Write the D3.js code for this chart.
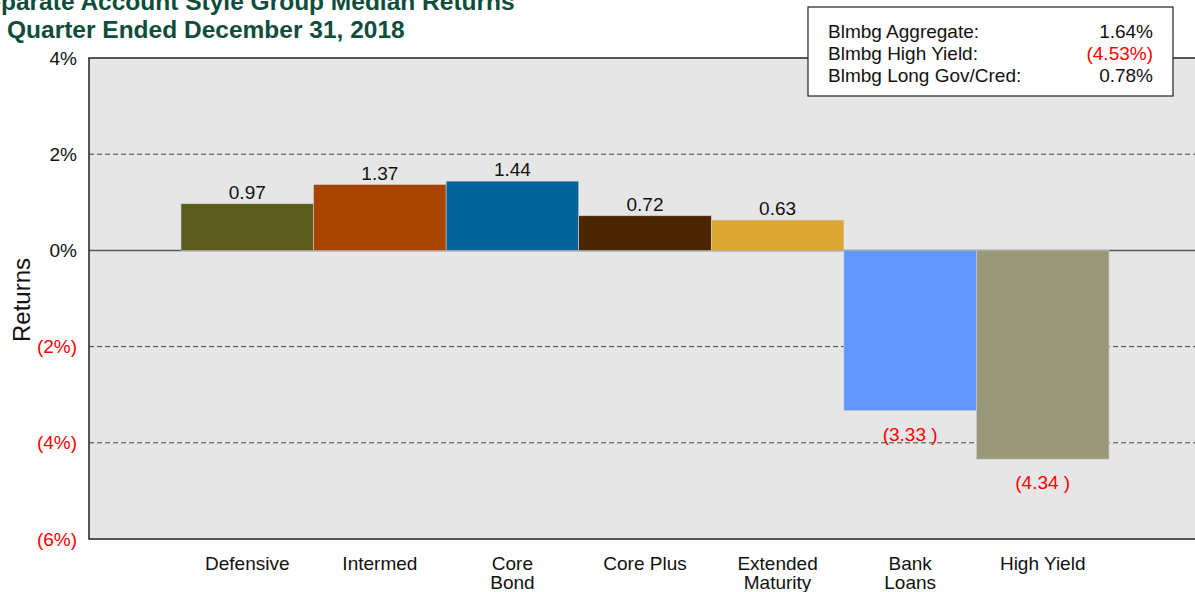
<!DOCTYPE html>
<html>
<head>
<meta charset="utf-8">
<script src="https://cdn.jsdelivr.net/npm/d3@7"></script>
<style>
  body { margin: 0; background: #ffffff; }
  svg { display: block; font-family: "Liberation Sans", Arial, sans-serif; }
</style>
</head>
<body>
<div id="chart"></div>
<script>
/**
 * Data
 */
const categories = [["Defensive"], ["Intermed"], ["Core", "Bond"], ["Core Plus"],
  ["Extended", "Maturity"], ["Bank", "Loans"], ["High Yield"]];
const returns = [0.97, 1.37, 1.44, 0.72, 0.63, -3.33, -4.34];
const barColors = ["#5c5c1f", "#a84400", "#00649b", "#4a2600", "#dba832", "#6096ff", "#999878"];
const yTicks = [4, 2, 0, -2, -4, -6];
const indexNames = ["Blmbg Aggregate:", "Blmbg High Yield:", "Blmbg Long Gov/Cred:"];
const indexReturns = [1.64, -4.53, 0.78];
const titleLines = ["Separate Account Style Group Median Returns", "Quarter Ended December 31, 2018"];

/**
 * Settings
 */
const width = 1195;
const height = 592;
const plot = { left: 89, top: 58, right: 1200, bottom: 539 };

const svg = d3.select("#chart")
  .append("svg")
  .attr("width", width)
  .attr("height", height);

const y = d3.scaleLinear()
  .domain([-6, 4])
  .range([plot.bottom, plot.top]);

const x = d3.scaleBand()
  .domain(categories.map(d => d.join(" ")))
  .range([181, 1109])
  .padding(0);

const fmt = v => v < 0 ? "(" + d3.format(".2f")(-v) + " )" : d3.format(".2f")(v);

// plot background
svg.append("rect")
  .attr("x", plot.left)
  .attr("y", plot.top)
  .attr("width", plot.right - plot.left)
  .attr("height", plot.bottom - plot.top)
  .attr("fill", "#e6e6e6");

// dashed grid lines
svg.selectAll(".grid")
  .data(yTicks.filter(t => t !== 0 && t !== 4 && t !== -6))
  .join("line")
  .attr("class", "grid")
  .attr("x1", plot.left)
  .attr("x2", plot.right)
  .attr("y1", d => y(d))
  .attr("y2", d => y(d))
  .attr("stroke", "#444")
  .attr("stroke-width", 1)
  .attr("stroke-dasharray", "5,3");

// zero line
svg.append("line")
  .attr("x1", plot.left)
  .attr("x2", plot.right)
  .attr("y1", y(0))
  .attr("y2", y(0))
  .attr("stroke", "#555")
  .attr("stroke-width", 1.5);

// bars
svg.selectAll(".bar")
  .data(returns)
  .join("rect")
  .attr("class", "bar")
  .attr("x", (d, i) => x(categories[i].join(" ")))
  .attr("width", x.bandwidth())
  .attr("y", d => y(Math.max(0, d)))
  .attr("height", d => Math.abs(y(d) - y(0)))
  .attr("fill", (d, i) => barColors[i])
  .attr("stroke", "#d0d0d0")
  .attr("stroke-width", 0.6);

// value labels
svg.selectAll(".val")
  .data(returns)
  .join("text")
  .attr("class", "val")
  .attr("x", (d, i) => x(categories[i].join(" ")) + x.bandwidth() / 2)
  .attr("y", d => d >= 0 ? y(d) - 5 : y(d) + 30)
  .attr("text-anchor", "middle")
  .attr("font-size", 19)
  .attr("fill", d => d < 0 ? "#ff0000" : "#111")
  .text(fmt);

// frame: top, left, bottom
svg.append("path")
  .attr("d", `M${plot.right},${plot.top}H${plot.left}V${plot.bottom}H${plot.right}`)
  .attr("fill", "none")
  .attr("stroke", "#222")
  .attr("stroke-width", 1.5);

// y axis labels
const yAxis = svg.append("g")
  .attr("transform", `translate(${plot.left},0)`)
  .call(d3.axisLeft(y).tickValues(yTicks).tickSize(0).tickPadding(12)
    .tickFormat(d => d < 0 ? `(${-d}%)` : `${d}%`));
yAxis.select(".domain").remove();
yAxis.selectAll("text")
  .attr("font-family", "Liberation Sans, Arial, sans-serif")
  .attr("font-size", 19)
  .attr("fill", d => d < 0 ? "#ff0000" : "#111");

svg.append("text")
  .attr("transform", "translate(30,300) rotate(-90)")
  .attr("text-anchor", "middle")
  .attr("font-size", 24)
  .attr("fill", "#111")
  .text("Returns");

// x axis labels
const xLabels = svg.selectAll(".xlab")
  .data(categories)
  .join("text")
  .attr("class", "xlab")
  .attr("x", d => x(d.join(" ")) + x.bandwidth() / 2)
  .attr("y", 570)
  .attr("text-anchor", "middle")
  .attr("font-size", 19)
  .attr("fill", "#111");
xLabels.selectAll("tspan")
  .data(d => d)
  .join("tspan")
  .attr("x", function() { return d3.select(this.parentNode).attr("x"); })
  .attr("dy", (d, i) => i === 0 ? 0 : 19)
  .text(d => d);

// title (first line runs off the top-left edge, as in the source)
svg.selectAll(".title")
  .data(titleLines)
  .join("text")
  .attr("class", "title")
  .attr("x", (d, i) => i === 0 ? -29 : 7)
  .attr("y", (d, i) => i === 0 ? 10 : 38)
  .attr("font-size", 24.5)
  .attr("font-weight", "bold")
  .attr("fill", "#0e4d3b")
  .text(d => d);

// index box
const box = svg.append("g").attr("transform", "translate(808,7)");
box.append("rect")
  .attr("width", 365)
  .attr("height", 89)
  .attr("fill", "#fff")
  .attr("stroke", "#222")
  .attr("stroke-width", 1.2);
box.selectAll(".iname")
  .data(indexNames)
  .join("text")
  .attr("class", "iname")
  .attr("x", 20)
  .attr("y", (d, i) => 31 + i * 22)
  .attr("font-size", 19)
  .attr("fill", "#111")
  .text(d => d);
box.selectAll(".ival")
  .data(indexReturns)
  .join("text")
  .attr("class", "ival")
  .attr("x", 345)
  .attr("y", (d, i) => 31 + i * 22)
  .attr("text-anchor", "end")
  .attr("font-size", 19)
  .attr("fill", d => d < 0 ? "#ff0000" : "#111")
  .text(d => d < 0 ? `(${d3.format(".2f")(-d)}%)` : `${d3.format(".2f")(d)}%`);
</script>
</body>
</html>
